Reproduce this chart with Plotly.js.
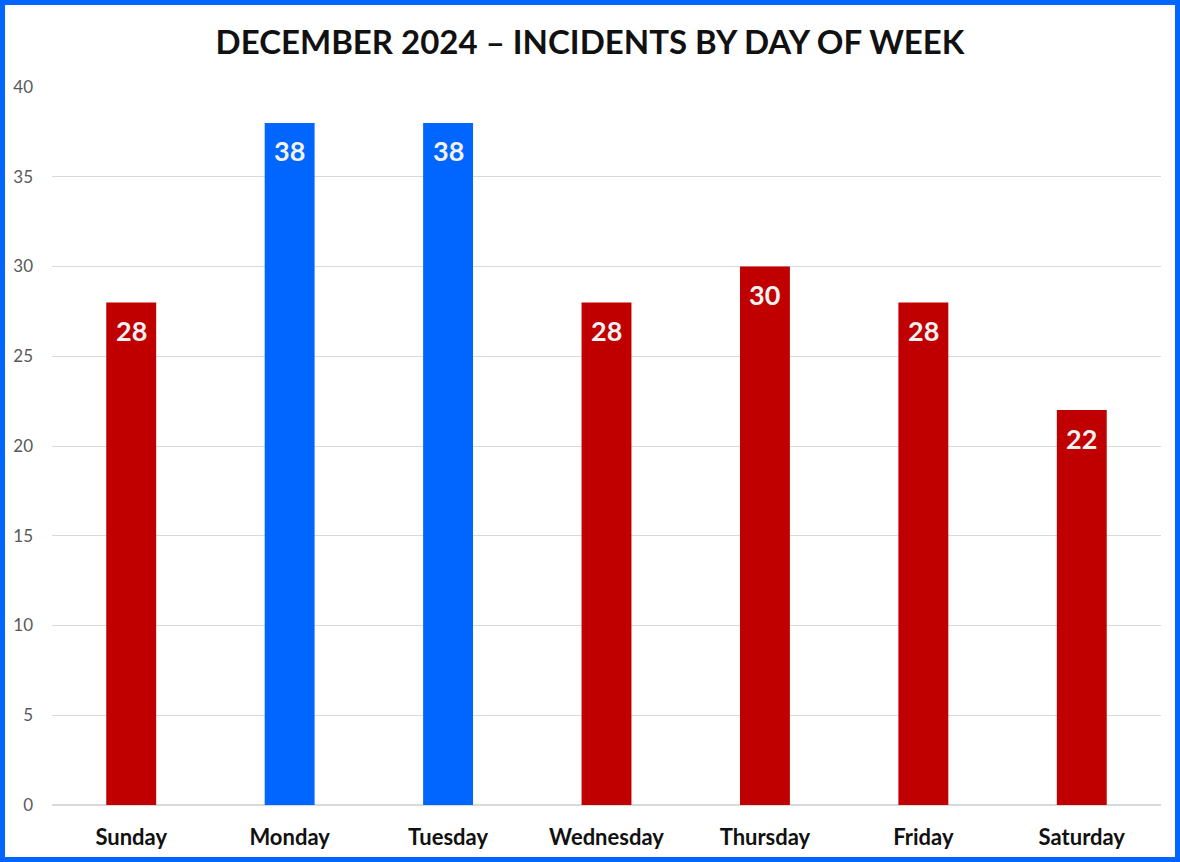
<!DOCTYPE html>
<html><head><meta charset="utf-8">
<script src="https://cdn.plot.ly/plotly-3.0.1.min.js"></script>
<style>
html,body{margin:0;padding:0;background:#fff;}
#wrap{width:1180px;height:862px;box-sizing:border-box;border:5px solid #0066FF;}
#chart{width:1170px;height:852px;}
</style></head><body>
<div id="wrap"><div id="chart"></div></div>
<script>
const days = ["Sunday","Monday","Tuesday","Wednesday","Thursday","Friday","Saturday"];
const incidents = [28,38,38,28,30,28,22];
const barColors = ["#C00000","#0066FF","#0066FF","#C00000","#C00000","#C00000","#C00000"];
const yTicks = [0,5,10,15,20,25,30,35,40];
const titleText = "DECEMBER 2024 – INCIDENTS BY DAY OF WEEK";

const trace = {
  type: "bar", x: days, y: incidents,
  marker: {color: barColors},
  hoverinfo: "x+y"
};
const annotations = days.map((d,i)=>({
  x: d, y: incidents[i], xref:"x", yref:"y",
  text: String(incidents[i]), showarrow:false,
  yanchor:"middle", yshift:-28,
  font:{family:"Lato, sans-serif", size:27, color:"#F2F2F2", weight:700}
}));
const layout = {
  width:1170, height:852,
  margin:{l:47, r:13.5, t:82, b:52},
  paper_bgcolor:"#fff", plot_bgcolor:"#fff",
  bargap:0.685,
  showlegend:false,
  title:{text:titleText, x:0.5, xanchor:"center", xref:"container", y:1-37/852, yanchor:"middle", yref:"container",
    font:{family:"Lato, sans-serif", size:33, color:"#111", weight:700}},
  xaxis:{type:"category", showgrid:false, showline:false, zeroline:false, ticks:"",
    tickfont:{family:"Lato, sans-serif", size:22, color:"#111", weight:700}, ticklabelstandoff:17},
  yaxis:{range:[0,40], tickvals:yTicks, showgrid:true, gridcolor:"#D9D9D9", gridwidth:1,
    zeroline:true, zerolinecolor:"#D9D9D9", zerolinewidth:1.5, showline:false, ticks:"",
    tickfont:{family:"Lato, sans-serif", size:17, color:"#595959"}, ticklabelstandoff:18},
  annotations: annotations
};
Plotly.newPlot("chart",[trace],layout,{displayModeBar:false, staticPlot:true});
</script></body></html>
